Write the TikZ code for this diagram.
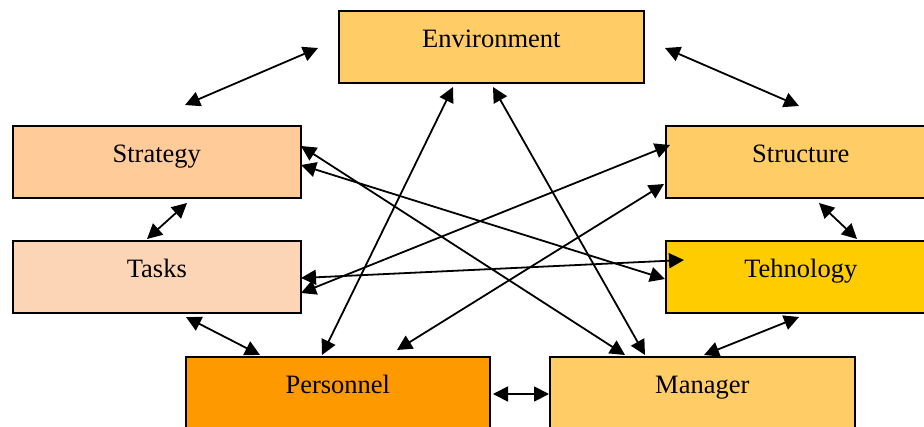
\documentclass[tikz,border=0pt]{standalone}
\usepackage{fontspec}
\setmainfont{Liberation Serif}
\usetikzlibrary{arrows.meta}
\definecolor{envc}{HTML}{FFCC66}
\definecolor{stratc}{HTML}{FFCC99}
\definecolor{tasksc}{HTML}{FBD5B5}
\definecolor{structc}{HTML}{FFCC66}
\definecolor{techc}{HTML}{FFCC00}
\definecolor{persc}{HTML}{FF9900}
\definecolor{mgrc}{HTML}{FFCC66}
\begin{document}
\begin{tikzpicture}[x=1pt,y=-1pt,
  box/.style={draw=black, line width=1.6pt, rectangle, anchor=north west,
    minimum height=72pt, inner sep=0pt, text height=20pt, text depth=18pt,
    font=\fontsize{26.5}{31}\selectfont},
  link/.style={line width=1.8pt,
    {Triangle[length=15pt,width=15pt]}-{Triangle[length=15pt,width=15pt]}}]
\useasboundingbox (0,0) rectangle (924,426);
\node[box, fill=envc,   minimum width=305pt] (env)   at (338,10)  {Environment};
\node[box, fill=stratc, minimum width=288pt] (strat) at (12,125)  {Strategy};
\node[box, fill=structc,minimum width=270pt] (struct) at (665,125) {Structure};
\node[box, fill=tasksc, minimum width=288pt] (tasks) at (12,240)  {Tasks};
\node[box, fill=techc,  minimum width=270pt] (tech)  at (665,240) {Tehnology};
\node[box, fill=persc,  minimum width=304pt] (pers)  at (185,356) {Personnel};
\node[box, fill=mgrc,   minimum width=305pt] (mgr)   at (549,356) {Manager};
% end points
\coordinate (se1) at (185,105); \coordinate (se2) at (318,48);
\coordinate (es1) at (665,48);  \coordinate (es2) at (799,106);
\coordinate (st1) at (187,203); \coordinate (st2) at (147,239);
\coordinate (sh1) at (819,203); \coordinate (sh2) at (857,239);
\coordinate (tp1) at (186,317); \coordinate (tp2) at (260,355);
\coordinate (hm1) at (799,317); \coordinate (hm2) at (704,355);
\coordinate (pm1) at (493,394); \coordinate (pm2) at (549,394);
\coordinate (pe1) at (322,355); \coordinate (pe2) at (453,87);
\coordinate (me1) at (645,355); \coordinate (me2) at (493,87);
\coordinate (sm1) at (301,146); \coordinate (sm2) at (625,355);
\coordinate (sth1) at (301,165); \coordinate (sth2) at (665,279);
\coordinate (tsu1) at (301,293); \coordinate (tsu2) at (670,145);
\coordinate (tth1) at (301,278); \coordinate (tth2) at (684,260);
\coordinate (psu1) at (397,350); \coordinate (psu2) at (664,184);
\draw[link] (se1) -- (se2);
\draw[link] (es1) -- (es2);
\draw[link] (st1) -- (st2);
\draw[link] (sh1) -- (sh2);
\draw[link] (tp1) -- (tp2);
\draw[link] (hm1) -- (hm2);
\draw[link] (pm1) -- (pm2);
\draw[link] (pe1) -- (pe2);
\draw[link] (me1) -- (me2);
\draw[link] (sm1) -- (sm2);
\draw[link] (sth1) -- (sth2);
\draw[link] (tsu1) -- (tsu2);
\draw[link] (tth1) -- (tth2);
\draw[link] (psu1) -- (psu2);
\end{tikzpicture}
\end{document}
